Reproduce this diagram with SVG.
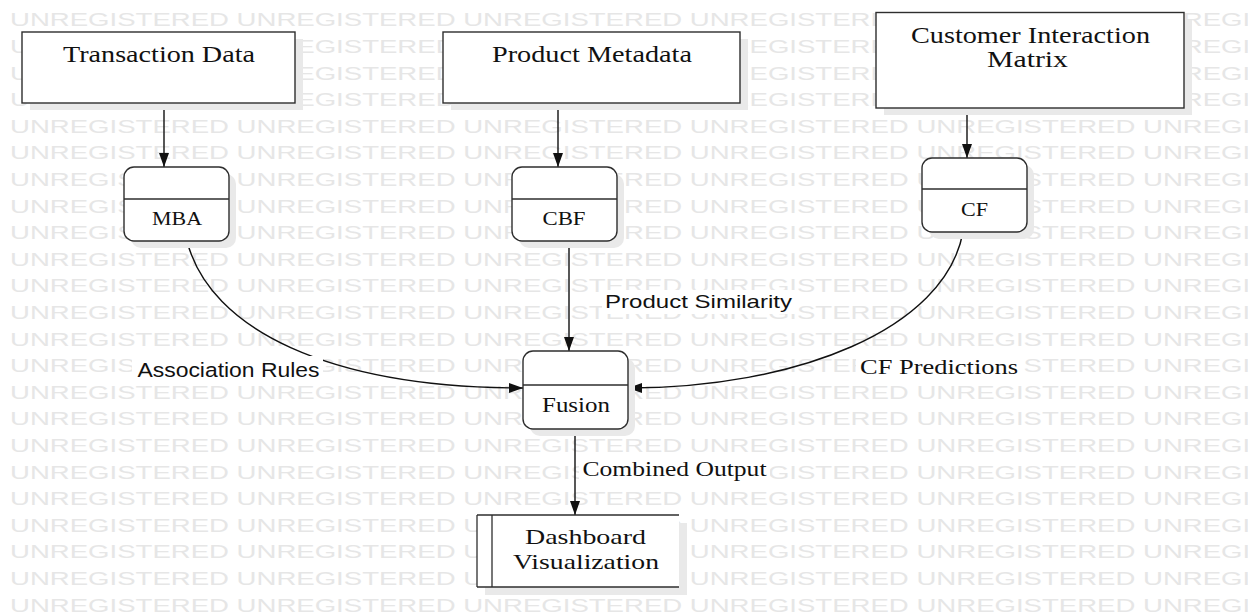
<svg xmlns="http://www.w3.org/2000/svg" xmlns:xlink="http://www.w3.org/1999/xlink" width="1248" height="612" viewBox="0 0 1248 612">
  <style>
    .wm { font-family: "Liberation Sans", Arial, sans-serif; font-size: 18.5px; fill: #e6e6e6; }
    .box { fill: #ffffff; stroke: #2e2e2e; stroke-width: 1.4; }
    .shadow { fill: #e9e9e9; }
    .div { stroke: #2e2e2e; stroke-width: 1.3; }
    .serif { font-family: "Liberation Serif", "Times New Roman", serif; fill: #111; }
    .sans { font-family: "Liberation Sans", Arial, sans-serif; fill: #111; }
    .edge { fill: none; stroke: #111; stroke-width: 1.4; }
    .lblbg { fill: #ffffff; }
  </style>
  <defs>
    <marker id="arrow" markerUnits="userSpaceOnUse" markerWidth="14" markerHeight="10" refX="14" refY="5" orient="auto">
      <path d="M0,0 L14,5 L0,10 z" fill="#111"/>
    </marker>
    <text id="wmrow" class="wm" x="10" y="0" textLength="1352" lengthAdjust="spacingAndGlyphs">UNREGISTERED UNREGISTERED UNREGISTERED UNREGISTERED UNREGISTERED UNREGISTERED</text>
  </defs>

  <rect width="1248" height="612" fill="#ffffff"/>

  <!-- watermark rows -->
  <g id="watermark">
    <use xlink:href="#wmrow" y="26.3"/>
    <use xlink:href="#wmrow" y="52.9"/>
    <use xlink:href="#wmrow" y="79.5"/>
    <use xlink:href="#wmrow" y="106.1"/>
    <use xlink:href="#wmrow" y="132.7"/>
    <use xlink:href="#wmrow" y="159.3"/>
    <use xlink:href="#wmrow" y="185.9"/>
    <use xlink:href="#wmrow" y="212.5"/>
    <use xlink:href="#wmrow" y="239.1"/>
    <use xlink:href="#wmrow" y="265.7"/>
    <use xlink:href="#wmrow" y="292.3"/>
    <use xlink:href="#wmrow" y="318.9"/>
    <use xlink:href="#wmrow" y="345.5"/>
    <use xlink:href="#wmrow" y="372.1"/>
    <use xlink:href="#wmrow" y="398.7"/>
    <use xlink:href="#wmrow" y="425.3"/>
    <use xlink:href="#wmrow" y="451.9"/>
    <use xlink:href="#wmrow" y="478.5"/>
    <use xlink:href="#wmrow" y="505.1"/>
    <use xlink:href="#wmrow" y="531.7"/>
    <use xlink:href="#wmrow" y="558.3"/>
    <use xlink:href="#wmrow" y="584.9"/>
    <use xlink:href="#wmrow" y="611.5"/>
  </g>

  <!-- connectors -->
  <g id="connectors">
    <line class="edge" x1="164" y1="103" x2="164" y2="167" marker-end="url(#arrow)"/>
    <line class="edge" x1="558" y1="103" x2="558" y2="167" marker-end="url(#arrow)"/>
    <line class="edge" x1="967" y1="108" x2="967" y2="158" marker-end="url(#arrow)"/>
    <path class="edge" d="M187,241 C210,330 330,388 523,388" marker-end="url(#arrow)"/>
    <line class="edge" x1="569" y1="241" x2="569" y2="351" marker-end="url(#arrow)"/>
    <path class="edge" d="M963,232 C945,330 795,388 628,388" marker-end="url(#arrow)"/>
    <line class="edge" x1="575" y1="429" x2="575" y2="515" marker-end="url(#arrow)"/>

    <rect class="lblbg" x="132" y="356" width="191" height="26"/>
    <text class="sans" x="137.5" y="376.7" font-size="20.5" textLength="182" lengthAdjust="spacingAndGlyphs">Association Rules</text>
    <rect class="lblbg" x="602" y="290" width="193" height="24"/>
    <text class="sans" x="605" y="308.3" font-size="19" textLength="187" lengthAdjust="spacingAndGlyphs">Product Similarity</text>
    <rect class="lblbg" x="856" y="356" width="168" height="24"/>
    <text class="serif" x="860" y="374.3" font-size="20" textLength="158" lengthAdjust="spacingAndGlyphs">CF  Predictions</text>
    <rect class="lblbg" x="579" y="458" width="191" height="24"/>
    <text class="serif" x="582.5" y="476" font-size="20" textLength="184" lengthAdjust="spacingAndGlyphs">Combined Output</text>
  </g>

  <!-- source entities -->
  <g id="transaction-data">
    <rect class="shadow" x="30" y="39" width="273" height="71"/>
    <rect class="box" x="22" y="32" width="273" height="71"/>
    <text class="serif" x="159" y="62" font-size="22.5" text-anchor="middle" textLength="192" lengthAdjust="spacingAndGlyphs">Transaction Data</text>
  </g>
  <g id="product-metadata">
    <rect class="shadow" x="451" y="39" width="297" height="71"/>
    <rect class="box" x="443" y="32" width="297" height="71"/>
    <text class="serif" x="592" y="62" font-size="22.5" text-anchor="middle" textLength="200" lengthAdjust="spacingAndGlyphs">Product Metadata</text>
  </g>
  <g id="customer-interaction-matrix">
    <rect class="shadow" x="884" y="20" width="308" height="95"/>
    <rect class="box" x="876" y="12.5" width="308" height="95.5"/>
    <text class="serif" x="1030.5" y="43" font-size="22.5" text-anchor="middle" textLength="239" lengthAdjust="spacingAndGlyphs">Customer Interaction</text>
    <text class="serif" x="1027.5" y="67" font-size="22.5" text-anchor="middle" textLength="81" lengthAdjust="spacingAndGlyphs">Matrix</text>
  </g>

  <!-- processes -->
  <g id="mba">
    <rect class="shadow" x="131" y="174" width="105" height="74" rx="10"/>
    <rect class="box" x="124" y="167" width="105" height="74" rx="10"/>
    <line class="div" x1="124" y1="199" x2="229" y2="199"/>
    <text class="serif" x="177" y="225" font-size="18" text-anchor="middle" textLength="50" lengthAdjust="spacingAndGlyphs">MBA</text>
  </g>
  <g id="cbf">
    <rect class="shadow" x="519" y="174" width="105" height="74" rx="10"/>
    <rect class="box" x="512" y="167" width="105" height="74" rx="10"/>
    <line class="div" x1="512" y1="199" x2="617" y2="199"/>
    <text class="serif" x="564" y="225" font-size="18" text-anchor="middle" textLength="43" lengthAdjust="spacingAndGlyphs">CBF</text>
  </g>
  <g id="cf">
    <rect class="shadow" x="929" y="165" width="105" height="74" rx="10"/>
    <rect class="box" x="922" y="158" width="105" height="74" rx="10"/>
    <line class="div" x1="922" y1="189" x2="1027" y2="189"/>
    <text class="serif" x="974.5" y="215.5" font-size="18" text-anchor="middle" textLength="27" lengthAdjust="spacingAndGlyphs">CF</text>
  </g>
  <g id="fusion">
    <rect class="shadow" x="530" y="358" width="105" height="78" rx="10"/>
    <rect class="box" x="523" y="351" width="105" height="78" rx="10"/>
    <line class="div" x1="523" y1="385" x2="628" y2="385"/>
    <text class="serif" x="576" y="411.7" font-size="22" text-anchor="middle" textLength="68" lengthAdjust="spacingAndGlyphs">Fusion</text>
  </g>

  <!-- data store -->
  <g id="dashboard-visualization">
    <rect class="shadow" x="485" y="523" width="202" height="72"/>
    <rect x="477" y="515" width="202" height="72" fill="#ffffff"/>
    <line class="div" x1="477" y1="515" x2="679" y2="515"/>
    <line class="div" x1="477" y1="587" x2="679" y2="587"/>
    <line class="div" x1="477" y1="515" x2="477" y2="587"/>
    <line class="div" x1="492" y1="515" x2="492" y2="587"/>
    <text class="serif" x="585.5" y="544" font-size="21" text-anchor="middle" textLength="121" lengthAdjust="spacingAndGlyphs">Dashboard</text>
    <text class="serif" x="586" y="568.5" font-size="21" text-anchor="middle" textLength="146" lengthAdjust="spacingAndGlyphs">Visualization</text>
  </g>
</svg>
